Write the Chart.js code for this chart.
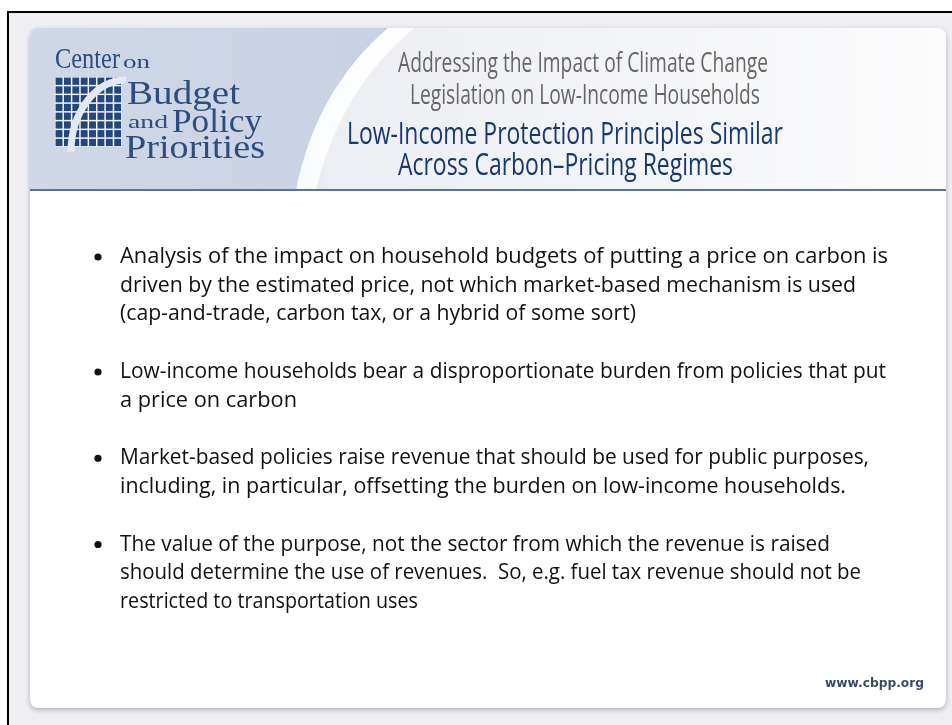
<!DOCTYPE html>
<html>
<head>
<meta charset="utf-8">
<script src="https://cdn.jsdelivr.net/npm/chart.js@4.4.1/dist/chart.umd.min.js"></script>
<style>
html, body { margin: 0; padding: 0; background: #fff; }
#wrap { width: 952px; height: 725px; position: relative; }
</style>
</head>
<body>
<div id="wrap"><canvas id="slide"></canvas></div>
<script>
// header titles
var titleGray = ["Addressing the Impact of Climate Change", "Legislation on Low-Income Households"];
var titleBlue = ["Low-Income Protection Principles Similar", "Across Carbon\u2013Pricing Regimes"];

// logo words
var logoWords = ["Center", "on", "Budget", "and", "Policy", "Priorities"];

// line slot where each bullet starts, and its lines of text
var bulletSlots = [0, 4, 7, 10];
var bulletText = [
  ["Analysis of the impact on household budgets of putting a price on carbon is",
   "driven by the estimated price, not which market-based mechanism is used",
   "(cap-and-trade, carbon tax, or a hybrid of some sort)"],
  ["Low-income households bear a disproportionate burden from policies that put",
   "a price on carbon"],
  ["Market-based policies raise revenue that should be used for public purposes,",
   "including, in particular, offsetting the burden on low-income households."],
  ["The value of the purpose, not the sector from which the revenue is raised",
   "should determine the use of revenues.  So, e.g. fuel tax revenue should not be",
   "restricted to transportation uses"]
];
var footerText = "www.cbpp.org";

// where each body line ends on the slide (layout only)
var lineEnds = [[888, 856, 636], [886, 297], [869, 846], [830, 861, 418]];

// draw a string squeezed/stretched to a given width
function fitText(ctx, str, left, base, width) {
  var w = ctx.measureText(str).width;
  ctx.save();
  ctx.translate(left, base);
  ctx.scale(width / w, 1);
  ctx.textAlign = "left";
  ctx.textBaseline = "alphabetic";
  ctx.fillText(str, 0, 0);
  ctx.restore();
}

function roundRect(ctx, x, y, w, h, r) {
  ctx.beginPath();
  ctx.moveTo(x + r, y);
  ctx.lineTo(x + w - r, y);
  ctx.quadraticCurveTo(x + w, y, x + w, y + r);
  ctx.lineTo(x + w, y + h - r);
  ctx.quadraticCurveTo(x + w, y + h, x + w - r, y + h);
  ctx.lineTo(x + r, y + h);
  ctx.quadraticCurveTo(x, y + h, x, y + h - r);
  ctx.lineTo(x, y + r);
  ctx.quadraticCurveTo(x, y, x + r, y);
  ctx.closePath();
}

function drawLogo(ctx) {
  // grid square
  var gx = 55, gy = 77, n = 8, cw = 67 / n, ch = 70 / n;
  ctx.fillStyle = "#f2f4f8";
  ctx.fillRect(gx, gy, 67, 70);
  ctx.fillStyle = "#23477a";
  for (var i = 0; i < n; i++) {
    for (var j = 0; j < n; j++) {
      ctx.fillRect(gx + i * cw + 0.6, gy + j * ch + 0.6, cw - 1.5, ch - 1.5);
    }
  }
  // white arc
  ctx.save();
  ctx.strokeStyle = "#e4e8f0";
  ctx.lineWidth = 7;
  ctx.beginPath();
  ctx.ellipse(126, 152, 55, 72, 0, Math.PI, Math.PI * 1.5);
  ctx.stroke();
  ctx.restore();

  ctx.fillStyle = "#2c4d7e";
  ctx.font = "29px 'Liberation Serif'";
  fitText(ctx, logoWords[0], 55, 68, 65);
  ctx.font = "19px 'Liberation Serif'";
  fitText(ctx, logoWords[1], 123, 68, 27);
  ctx.font = "34px 'Liberation Serif'";
  fitText(ctx, logoWords[2], 127, 104, 113);
  ctx.font = "19px 'Liberation Serif'";
  fitText(ctx, logoWords[3], 128, 128, 40);
  ctx.font = "34px 'Liberation Serif'";
  fitText(ctx, logoWords[4], 172, 132, 90);
  fitText(ctx, logoWords[5], 125, 158, 140);
}

var slidePlugin = {
  id: "slide",
  beforeDraw: function (chart) {
    var ctx = chart.ctx;
    ctx.save();
    ctx.fillStyle = "#ffffff";
    ctx.fillRect(0, 0, 952, 725);
    ctx.fillStyle = "#eeeef3";
    ctx.fillRect(8, 12, 944, 713);
    // black frame (top and left)
    ctx.fillStyle = "#000";
    ctx.fillRect(8, 11, 944, 2);
    ctx.fillRect(7, 11, 2, 714);

    // panel with shadow
    ctx.save();
    ctx.shadowColor = "rgba(0,0,0,0.25)";
    ctx.shadowBlur = 5;
    ctx.shadowOffsetY = 2;
    ctx.fillStyle = "#fff";
    roundRect(ctx, 30, 28, 916, 680, 9);
    ctx.fill();
    ctx.restore();

    // header
    ctx.save();
    roundRect(ctx, 30, 28, 916, 680, 9);
    ctx.clip();
    var g = ctx.createLinearGradient(30, 0, 946, 0);
    g.addColorStop(0, "#cfd7e6");
    g.addColorStop(0.3, "#d6dde9");
    g.addColorStop(0.32, "#eceef3");
    g.addColorStop(1, "#fbfbfc");
    ctx.fillStyle = g;
    ctx.fillRect(30, 28, 916, 162);
    // blue part left of the swoosh
    ctx.beginPath();
    ctx.moveTo(30, 28);
    ctx.lineTo(388, 28);
    ctx.quadraticCurveTo(316, 90, 296, 190);
    ctx.lineTo(30, 190);
    ctx.closePath();
    var g2 = ctx.createLinearGradient(30, 0, 388, 0);
    g2.addColorStop(0, "#d0d8e7");
    g2.addColorStop(1, "#c9d2e3");
    ctx.fillStyle = g2;
    ctx.fill();
    // white swoosh band
    ctx.beginPath();
    ctx.moveTo(388, 28);
    ctx.lineTo(414, 28);
    ctx.quadraticCurveTo(340, 90, 316, 190);
    ctx.lineTo(296, 190);
    ctx.quadraticCurveTo(316, 90, 388, 28);
    ctx.closePath();
    ctx.fillStyle = "rgba(255,255,255,0.85)";
    ctx.fill();
    ctx.restore();
    // header rule
    ctx.fillStyle = "#5b7393";
    ctx.fillRect(30, 189, 916, 2);

    drawLogo(ctx);

    // titles
    ctx.fillStyle = "#666666";
    ctx.font = "28px 'Open Sans'";
    fitText(ctx, titleGray[0], 398, 72, 370);
    fitText(ctx, titleGray[1], 410, 104, 350);
    ctx.fillStyle = "#17396b";
    ctx.font = "31px 'Open Sans'";
    fitText(ctx, titleBlue[0], 347, 144, 436);
    fitText(ctx, titleBlue[1], 398, 175, 335);

    // footer
    ctx.fillStyle = "#3a4b68";
    ctx.font = "bold 13px 'DejaVu Sans'";
    fitText(ctx, footerText, 825, 687, 99);
    ctx.restore();
  },
  afterDatasetsDraw: function (chart) {
    var ctx = chart.ctx;
    var y = chart.scales.y;
    var left = chart.chartArea.right;
    ctx.save();
    ctx.fillStyle = "#111111";
    ctx.font = "22px 'Open Sans'";
    for (var b = 0; b < bulletText.length; b++) {
      for (var k = 0; k < bulletText[b].length; k++) {
        var py = y.getPixelForValue(bulletSlots[b] + k);
        fitText(ctx, bulletText[b][k], left, py + 6, lineEnds[b][k] - left);
      }
    }
    ctx.restore();
  }
};

var ctx = document.getElementById("slide");
var chart = new Chart(ctx, {
  type: "scatter",
  data: {
    datasets: [
      {
        data: bulletSlots.map(function (s) { return { x: 0, y: s }; }),
        backgroundColor: "#111111",
        borderWidth: 0,
        pointRadius: 3.6,
        clip: false
      }
    ]
  },
  options: {
    responsive: true,
    maintainAspectRatio: false,
    animation: false,
    layout: { padding: { left: 98, right: 832, top: 242.6, bottom: 108.6 } },
    scales: {
      x: { display: false, min: 0, max: 1 },
      y: { display: false, min: -0.5, max: 12.5, reverse: true }
    },
    plugins: { legend: { display: false }, tooltip: { enabled: false } },
    events: []
  },
  plugins: [slidePlugin]
});
</script>
</body>
</html>
